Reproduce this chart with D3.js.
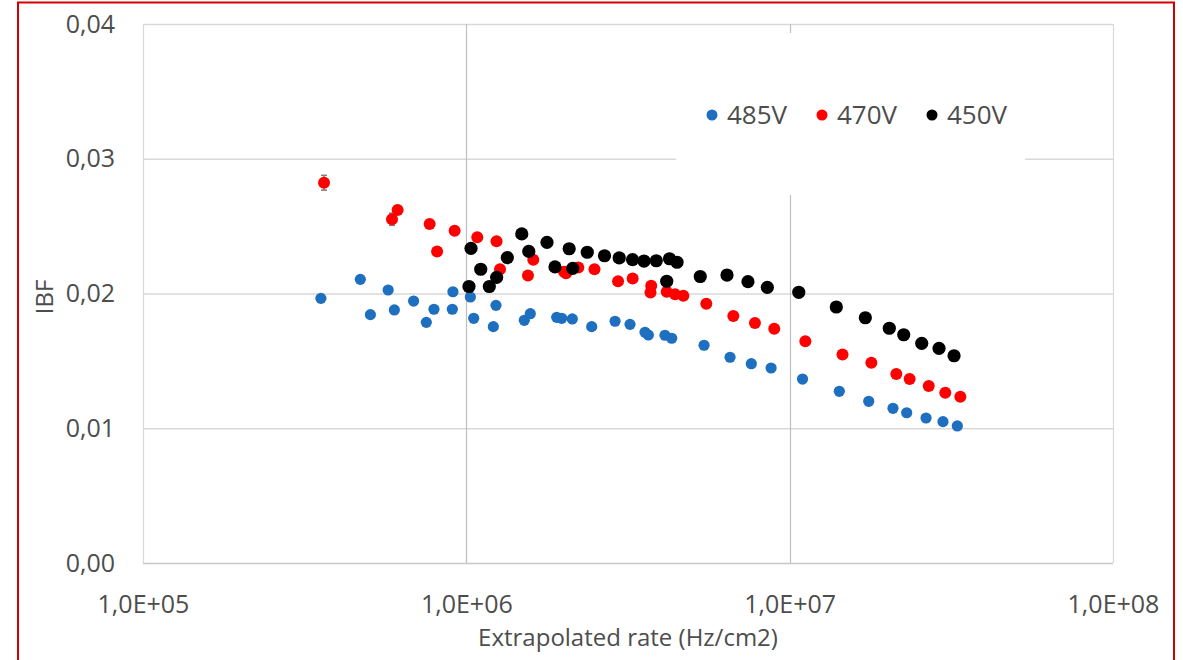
<!doctype html>
<html lang="">
<head>
  <meta charset="utf-8">
  <title>IBF vs rate</title>
  <script src="https://d3js.org/d3.v7.min.js"></script>
<style media="screen">
  body {
    margin: 0;
    background: #fff;
  }
  text {
    font-family: "Open Sans", "Liberation Sans", sans-serif;
    fill: #4d4d4d;
  }
</style>
</head>
<body>
<div id="my_dataviz"></div>
<script>

    // 485V (blue)
    var rate485 = [3.55e5, 4.70e5, 5.05e5, 5.73e5, 5.99e5, 6.87e5, 7.52e5, 7.94e5, 9.09e5, 9.05e5,
        1.029e6, 1.054e6, 1.235e6, 1.212e6, 1.511e6, 1.577e6, 1.903e6, 1.972e6, 2.127e6, 2.442e6,
        2.884e6, 3.208e6, 3.570e6, 3.655e6, 4.115e6, 4.317e6, 5.435e6, 6.54e6, 7.61e6, 8.76e6,
        1.096e7, 1.424e7, 1.756e7, 2.087e7, 2.301e7, 2.641e7, 2.98e7, 3.30e7];
    var ibf485 = [0.01964, 0.02105, 0.01843, 0.02026, 0.01878, 0.01944, 0.01786, 0.01883, 0.02013, 0.01883,
        0.01974, 0.01816, 0.01912, 0.01754, 0.01801, 0.01850, 0.01823, 0.01816, 0.01811, 0.01754,
        0.01794, 0.01771, 0.01712, 0.01692, 0.01690, 0.01668, 0.01616, 0.01527, 0.01479, 0.01447,
        0.01365, 0.01274, 0.01200, 0.01148, 0.01115, 0.01076, 0.01049, 0.01017];

    // 470V (red)
    var rate470 = [3.63e5, 6.13e5, 5.89e5, 7.70e5, 8.12e5, 9.20e5, 1.081e6, 1.240e6, 1.271e6, 1.611e6,
        1.551e6, 2.005e6, 2.034e6, 2.220e6, 2.491e6, 2.946e6, 3.269e6, 3.731e6, 3.712e6, 4.166e6,
        4.421e6, 4.69e6, 5.524e6, 6.695e6, 7.81e6, 8.96e6, 1.118e7, 1.457e7, 1.789e7, 2.137e7,
        2.350e7, 2.692e7, 3.029e7, 3.372e7];
    var ibf470 = [0.02822, 0.02620, 0.02551, 0.02516, 0.02312, 0.02466, 0.02418, 0.02387, 0.02180, 0.02251,
        0.02134, 0.02162, 0.02150, 0.02193, 0.02180, 0.02091, 0.02111, 0.02057, 0.02007, 0.02013,
        0.01995, 0.01984, 0.01924, 0.01833, 0.01781, 0.01739, 0.01645, 0.01547, 0.01486, 0.01403,
        0.01365, 0.01314, 0.01264, 0.01234];
    // only the first few points have error bars bigger than the marker
    var err470 = [0.00055, 0, 0.00045, 0, 0, 0, 0, 0, 0, 0,
        0, 0, 0, 0, 0, 0, 0, 0, 0, 0,
        0, 0, 0, 0, 0, 0, 0, 0, 0, 0,
        0, 0, 0, 0];

    // 450V (black)
    var rate450 = [1.034e6, 1.019e6, 1.108e6, 1.178e6, 1.241e6, 1.339e6, 1.484e6, 1.560e6, 1.776e6, 1.880e6,
        2.080e6, 2.133e6, 2.366e6, 2.675e6, 2.971e6, 3.266e6, 3.544e6, 3.868e6, 4.250e6, 4.484e6,
        4.166e6, 5.29e6, 6.40e6, 7.43e6, 8.53e6, 1.067e7, 1.394e7, 1.714e7, 2.033e7, 2.253e7,
        2.561e7, 2.897e7, 3.224e7];
    var ibf450 = [0.02335, 0.02052, 0.02180, 0.02052, 0.02120, 0.02266, 0.02442, 0.02312, 0.02380, 0.02197,
        0.02332, 0.02186, 0.02306, 0.02280, 0.02264, 0.02251, 0.02241, 0.02243, 0.02258, 0.02232,
        0.02091, 0.02126, 0.02137, 0.02088, 0.02046, 0.02009, 0.01900, 0.01820, 0.01742, 0.01694,
        0.01630, 0.01593, 0.01538];

    var xTicks = [1e5, 1e6, 1e7, 1e8];
    var yTicks = [0, 0.01, 0.02, 0.03, 0.04];
    var seriesNames = ["485V", "470V", "450V"];

    var series = [
        {name: seriesNames[0], color: "#1f6fc1", r: 5.6, xs: rate485, ys: ibf485, err: null},
        {name: seriesNames[1], color: "#ff0000", r: 6, xs: rate470, ys: ibf470, err: err470},
        {name: seriesNames[2], color: "#000000", r: 6.6, xs: rate450, ys: ibf450, err: null}
    ];

    var W = 1183, H = 660;
    var margin = {top: 24, right: 70, bottom: 97, left: 143};

    var svg = d3.select("#my_dataviz")
        .append("svg")
        .attr("width", W)
        .attr("height", H);

    // red frame round the picture
    svg.append("rect")
        .attr("x", 18).attr("y", 2.5)
        .attr("width", 1156).attr("height", 700)
        .attr("fill", "none")
        .attr("stroke", "#d40000")
        .attr("stroke-width", 2);

    var x = d3.scaleLog()
        .domain([1e5, 1e8])
        .range([margin.left, W - margin.right]);

    var y = d3.scaleLinear()
        .domain([0, 0.04])
        .range([H - margin.bottom, margin.top]);

    // grid
    svg.append("g")
        .selectAll("line")
        .data(yTicks)
        .enter().append("line")
        .attr("x1", x(1e5)).attr("x2", x(1e8))
        .attr("y1", d => y(d) + 0.5).attr("y2", d => y(d) + 0.5)
        .attr("stroke", d => d === 0 ? "#c8c8c8" : "#d9d9d9")
        .attr("stroke-width", 1.3);

    svg.append("g")
        .selectAll("line")
        .data(xTicks)
        .enter().append("line")
        .attr("x1", d => Math.round(x(d)) + 0.5).attr("x2", d => Math.round(x(d)) + 0.5)
        .attr("y1", y(0.04)).attr("y2", y(0))
        .attr("stroke", d => (d === 1e5 || d === 1e8) ? "#d9d9d9" : "#bfbfbf")
        .attr("stroke-width", 1.2);

    // axes (labels only)
    var fmtX = d => d.toExponential(1).replace(".", ",").replace(/e\+(\d)$/, "E+0$1");
    var fmtY = d => d3.format(".2f")(d).replace(".", ",");

    var xAxis = svg.append("g")
        .attr("transform", "translate(0," + y(0) + ")")
        .call(d3.axisBottom(x).tickValues(xTicks).tickFormat(fmtX).tickSize(0).tickPadding(32));
    xAxis.select(".domain").remove();

    var yAxis = svg.append("g")
        .attr("transform", "translate(" + x(1e5) + ",0)")
        .call(d3.axisLeft(y).tickValues(yTicks).tickFormat(fmtY).tickSize(0).tickPadding(28));
    yAxis.select(".domain").remove();

    svg.selectAll(".tick text")
        .attr("fill", "#4d4d4d")
        .style("font-family", "'Open Sans', 'Liberation Sans', sans-serif")
        .style("font-size", "25px");

    svg.append("text")
        .attr("x", 628).attr("y", 646)
        .attr("text-anchor", "middle")
        .style("font-size", "24px")
        .text("Extrapolated rate (Hz/cm2)");

    svg.append("text")
        .attr("transform", "translate(53,297) rotate(-90)")
        .attr("text-anchor", "middle")
        .style("font-size", "24px")
        .text("IBF");

    // legend box hides the grid behind it
    var leg = svg.append("g");
    leg.append("rect")
        .attr("x", 676).attr("y", 33)
        .attr("width", 349).attr("height", 162)
        .attr("fill", "#fff");

    var legItems = leg.selectAll("g")
        .data(series)
        .enter().append("g")
        .attr("transform", (d, i) => "translate(" + (712 + i * 110) + ",115)");
    legItems.append("circle")
        .attr("r", 5.5)
        .attr("fill", d => d.color);
    legItems.append("text")
        .attr("x", 15).attr("dy", "0.36em")
        .style("font-size", "26px")
        .text(d => d.name);

    // error bars
    series.forEach(function (s) {
        if (!s.err) return;
        var g = svg.append("g").attr("stroke", "#7f7f7f").attr("stroke-width", 1.5);
        s.xs.forEach(function (v, i) {
            var e = s.err[i];
            if (!e) return;
            var cx = x(v);
            g.append("line").attr("x1", cx).attr("x2", cx).attr("y1", y(s.ys[i] + e)).attr("y2", y(s.ys[i] - e));
            g.append("line").attr("x1", cx - 3).attr("x2", cx + 3).attr("y1", y(s.ys[i] + e)).attr("y2", y(s.ys[i] + e));
            g.append("line").attr("x1", cx - 3).attr("x2", cx + 3).attr("y1", y(s.ys[i] - e)).attr("y2", y(s.ys[i] - e));
        });
    });

    // dots
    series.forEach(function (s) {
        svg.append("g")
            .selectAll("circle")
            .data(s.xs.map((v, i) => [v, s.ys[i]]))
            .enter()
            .append("circle")
            .attr("cx", d => x(d[0]))
            .attr("cy", d => y(d[1]))
            .attr("r", s.r)
            .style("fill", s.color);
    });

</script>
</body>
</html>
